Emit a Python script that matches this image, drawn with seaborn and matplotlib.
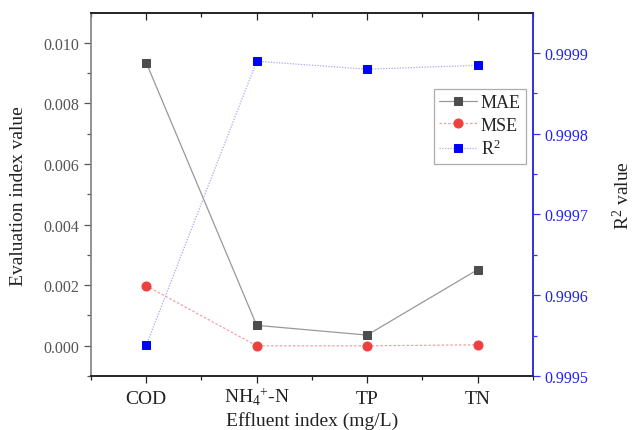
import numpy as np
import pandas as pd
import seaborn as sns
import matplotlib.pyplot as plt
from matplotlib.ticker import MultipleLocator

# Data
CATEGORIES = ["COD", "NH$_4$$^{+}$-N", "TP", "TN"]
MAE = [0.00934, 0.000675, 0.000354, 0.00251]
MSE = [0.00198, 0.0000, 0.0000, 0.000033]
R2 = [0.999538, 0.9998896, 0.9998797, 0.9998846]

sns.set_theme(style="white")
plt.rcParams["font.family"] = ["Liberation Serif", "DejaVu Serif"]
plt.rcParams["mathtext.fontset"] = "custom"
plt.rcParams["mathtext.rm"] = "Liberation Serif"
plt.rcParams["mathtext.it"] = "Liberation Serif:italic"
plt.rcParams["mathtext.bf"] = "Liberation Serif:bold"

df = pd.DataFrame({"pos": np.arange(len(CATEGORIES)), "MAE": MAE, "MSE": MSE, "R2": R2})

fig = plt.figure(figsize=(6.32, 4.31), dpi=100)
ax = fig.add_axes([0.144, 0.125, 0.699, 0.842])
ax2 = ax.twinx()

sns.lineplot(data=df, x="pos", y="MAE", ax=ax, color="#999999", lw=0.9,
             marker="s", markersize=6, markerfacecolor="#4d4d4d",
             markeredgecolor="#4d4d4d", label="MAE", legend=False)
sns.lineplot(data=df, x="pos", y="MSE", ax=ax, color="#f4a0a0", lw=0.9, ls=(0, (2, 1.5)),
             marker="o", markersize=6.5, markerfacecolor="#ef4040",
             markeredgecolor="#ef4040", label="MSE", legend=False)
sns.lineplot(data=df, x="pos", y="R2", ax=ax2, color="#a8a8f0", lw=0.9, ls=(0, (1, 1.2)),
             marker="s", markersize=6, markerfacecolor="#0000ff",
             markeredgecolor="#0000ff", label="R$^2$", legend=False)

ax.set_xlim(-0.5, 3.5)
ax.set_ylim(-0.001, 0.01097)
ax2.set_ylim(0.9995, 0.999949)

ax.set_xticks(df["pos"])
ax.set_xticklabels(CATEGORIES, fontsize=14, color="#222222")
for lbl in ax.get_xticklabels():
    lbl.set_va("baseline")
ax.xaxis.set_minor_locator(MultipleLocator(0.5))
ax.yaxis.set_major_locator(MultipleLocator(0.002))
ax.yaxis.set_minor_locator(MultipleLocator(0.001))
ax.yaxis.set_major_formatter(plt.FormatStrFormatter("%.3f"))
ax2.yaxis.set_major_locator(MultipleLocator(0.0001))
ax2.yaxis.set_minor_locator(MultipleLocator(0.00005))
ax2.yaxis.set_major_formatter(plt.FormatStrFormatter("%.4f"))

ax.tick_params(axis="y", which="major", direction="out", length=5, width=0.9,
               color="#555555", labelsize=11.5, labelcolor="#555555", left=True)
ax.tick_params(axis="y", which="minor", direction="out", length=3, width=0.9,
               color="#555555", left=True)
ax.tick_params(axis="x", which="major", direction="out", length=5, width=0.9,
               color="#222222", bottom=True, top=True, pad=14)
ax.tick_params(axis="x", which="minor", direction="out", length=3, width=0.9,
               color="#222222", bottom=True, top=True)
ax2.tick_params(axis="y", which="major", direction="out", length=5, width=0.9,
                color="#3333ff", labelsize=11.5, labelcolor="#2222ee", right=True)
ax2.tick_params(axis="y", which="minor", direction="out", length=3, width=0.9,
                color="#3333ff", right=True)

# top-axis ticks point inward
for t in ax.xaxis.get_major_ticks() + ax.xaxis.get_minor_ticks():
    t.tick2line.set_marker(3)

for ax_ in (ax, ax2):
    for s in ax_.spines.values():
        s.set_linewidth(1.2)
        s.set_visible(True)
ax.spines["left"].set_color("#808080")
ax.spines["bottom"].set_color("#222222")
ax.spines["top"].set_color("#222222")
ax2.spines["right"].set_color("#3333ff")
ax2.spines["left"].set_visible(False)
ax2.spines["top"].set_color("#222222")

ax.set_xlabel("Effluent index (mg/L)", fontsize=14, color="#222222")
ax.xaxis.set_label_coords(0.5, -0.097)
ax.set_ylabel("Evaluation index value", fontsize=14, color="#222222", labelpad=12)
ax2.set_ylabel("R$^2$ value", fontsize=14, color="#222222", rotation=90, labelpad=17)

handles = ax.get_lines()[:2] + ax2.get_lines()[:1]
leg = ax2.legend(handles, ["MAE", "MSE", "R$^2$"], loc="upper left",
                 bbox_to_anchor=(0.776, 0.792), fontsize=13, frameon=True,
                 fancybox=False, edgecolor="#999999", handlelength=2.1,
                 handletextpad=0.2, borderpad=0.3, labelspacing=0.3, borderaxespad=0)
leg.get_frame().set_linewidth(0.9)

fig.savefig("out.png", dpi=100)
